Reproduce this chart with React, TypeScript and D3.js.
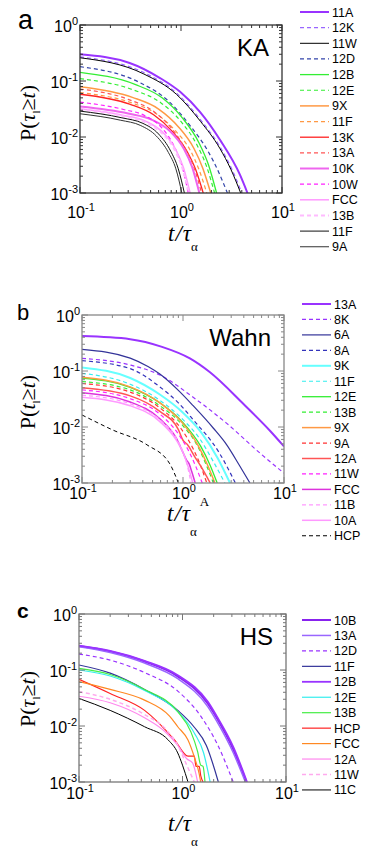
import React, { useEffect, useRef } from "react";
import * as d3 from "d3";

type Pt = [number, number];

// ---------- panel a : KA ----------
const kaNames = ["11A", "12K", "11W", "12D", "12B", "12E", "9X", "11F", "13K", "13A", "10K", "10W", "FCC", "13B", "11F", "9A"];
const kaColors = ["#9933ff", "#9966ff", "#000000", "#3344aa", "#33ee33", "#33ee33", "#ff9944", "#ff9944", "#ff2222", "#ff5555", "#ee66ee", "#ff22ff", "#ff99ff", "#ffbbff", "#111111", "#333333"];
const kaDashed = [false, true, false, true, false, true, false, true, false, true, false, true, false, true, false, false];
const kaWidths = [2, 1.2, 1, 1.2, 1.3, 1.2, 1.5, 1.2, 1.3, 1.2, 2, 1.2, 1.5, 2, 1, 1];
const kaCurves: Pt[][] = [
  [[0.1, 0.30], [0.31, 0.21], [0.62, 0.113], [0.98, 0.064], [1.54, 0.028], [2.43, 0.0089], [3.84, 0.0021], [4.55, 0.001]],
  [[0.1, 0.27], [0.44, 0.138], [0.91, 0.06], [1.59, 0.0194], [2.48, 0.0063], [3.21, 0.0026], [4.0, 0.001]],
  [[0.1, 0.26], [0.43, 0.133], [0.9, 0.058], [1.56, 0.019], [2.42, 0.0063], [3.13, 0.0026], [3.9, 0.001]],
  [[0.1, 0.18], [0.38, 0.096], [0.75, 0.044], [1.24, 0.0157], [1.86, 0.0055], [2.35, 0.0024], [2.88, 0.001]],
  [[0.1, 0.143], [0.35, 0.087], [0.65, 0.05], [1.03, 0.022], [1.5, 0.008], [1.87, 0.0032], [2.25, 0.001]],
  [[0.1, 0.11], [0.34, 0.069], [0.63, 0.041], [1.0, 0.0189], [1.44, 0.0072], [1.79, 0.003], [2.15, 0.001]],
  [[0.1, 0.079], [0.33, 0.051], [0.6, 0.0316], [0.94, 0.0153], [1.34, 0.0063], [1.64, 0.0028], [1.97, 0.001]],
  [[0.1, 0.062], [0.32, 0.041], [0.57, 0.026], [0.87, 0.0132], [1.24, 0.0057], [1.51, 0.0026], [1.8, 0.001]],
  [[0.1, 0.058], [0.31, 0.0386], [0.54, 0.0247], [0.82, 0.0126], [1.15, 0.0055], [1.4, 0.0026], [1.66, 0.001]],
  [[0.1, 0.072], [0.3, 0.047], [0.53, 0.029], [0.8, 0.0145], [1.11, 0.006], [1.36, 0.0027], [1.6, 0.001]],
  [[0.1, 0.035], [0.3, 0.0263], [0.51, 0.0205], [0.77, 0.0129], [1.07, 0.0061], [1.29, 0.0029], [1.52, 0.001]],
  [[0.1, 0.042], [0.27, 0.031], [0.44, 0.024], [0.64, 0.0148], [0.86, 0.0067], [1.02, 0.0031], [1.18, 0.001]],
  [[0.1, 0.032], [0.27, 0.0243], [0.45, 0.019], [0.66, 0.0121], [0.89, 0.0059], [1.06, 0.0028], [1.23, 0.001]],
  [[0.1, 0.031], [0.27, 0.0235], [0.44, 0.0185], [0.64, 0.0119], [0.87, 0.0058], [1.03, 0.0028], [1.2, 0.001]],
  [[0.1, 0.029], [0.26, 0.022], [0.42, 0.0175], [0.6, 0.0113], [0.79, 0.0056], [0.94, 0.0027], [1.08, 0.001]],
  [[0.1, 0.026], [0.25, 0.02], [0.4, 0.016], [0.57, 0.0104], [0.75, 0.0053], [0.89, 0.0027], [1.02, 0.001]],
];

// ---------- panel b : Wahn ----------
const wahnNames = ["13A", "8K", "6A", "8A", "9K", "11F", "12E", "13B", "9X", "9A", "12A", "11W", "FCC", "11B", "10A", "HCP"];
const wahnColors = ["#9933ff", "#9933ff", "#333399", "#3333bb", "#66ffff", "#33eeee", "#33ee33", "#33ee33", "#ff9944", "#ff3333", "#ff5555", "#ff22ff", "#dd33dd", "#ff99ff", "#ff99ff", "#000000"];
const wahnDashed = [false, true, false, true, false, true, false, true, false, true, false, true, false, true, false, true];
const wahnWidths = [2, 1.2, 1.2, 1.2, 2, 1.2, 1.3, 1.2, 1.5, 1.2, 1.5, 1.2, 1.5, 1.2, 1.5, 1];
const wahnCurves: Pt[][] = [
  [[0.1, 0.42], [0.3, 0.37], [0.62, 0.27], [1.17, 0.168], [1.85, 0.095], [3.95, 0.026], [7.3, 0.0085], [10, 0.0045]],
  [[0.1, 0.168], [0.3, 0.128], [0.59, 0.085], [1.26, 0.034], [2.71, 0.0116], [5.8, 0.0034], [10, 0.0015]],
  [[0.1, 0.244], [0.3, 0.17], [0.45, 0.12], [0.59, 0.088], [0.9, 0.045], [1.26, 0.024], [2.0, 0.0095], [2.71, 0.0048], [3.6, 0.0021], [4.6, 0.001]],
  [[0.1, 0.153], [0.3, 0.11], [0.59, 0.052], [0.9, 0.027], [1.26, 0.0135], [2.3, 0.0034], [3.3, 0.001]],
  [[0.1, 0.116], [0.3, 0.075], [0.59, 0.038], [1.0, 0.018], [1.5, 0.0082], [2.2, 0.0028], [2.92, 0.001]],
  [[0.1, 0.091], [0.3, 0.058], [0.59, 0.03], [1.0, 0.0135], [1.5, 0.0058], [2.0, 0.0024], [2.6, 0.001]],
  [[0.1, 0.075], [0.3, 0.051], [0.59, 0.027], [1.0, 0.012], [1.5, 0.0045], [1.85, 0.0021], [2.18, 0.001]],
  [[0.1, 0.065], [0.3, 0.046], [0.59, 0.024], [1.0, 0.0105], [1.4, 0.0045], [1.7, 0.0021], [2.0, 0.001]],
  [[0.1, 0.077], [0.3, 0.052], [0.59, 0.027], [1.0, 0.0115], [1.4, 0.0048], [1.75, 0.0021], [2.07, 0.001]],
  [[0.1, 0.06], [0.3, 0.042], [0.59, 0.022], [0.95, 0.0095], [1.25, 0.0042], [1.5, 0.002], [1.72, 0.001]],
  [[0.1, 0.05], [0.3, 0.036], [0.59, 0.019], [0.9, 0.009], [1.0, 0.0058], [1.1, 0.0049], [1.3, 0.003], [1.5, 0.002], [1.86, 0.001]],
  [[0.1, 0.046], [0.3, 0.032], [0.59, 0.017], [0.9, 0.0075], [1.15, 0.0036], [1.35, 0.0019], [1.55, 0.001]],
  [[0.1, 0.041], [0.3, 0.028], [0.59, 0.014], [0.85, 0.0065], [1.0, 0.0035], [1.08, 0.0026], [1.15, 0.0022], [1.22, 0.0016], [1.32, 0.001]],
  [[0.1, 0.037], [0.3, 0.026], [0.59, 0.0135], [0.85, 0.0065], [1.0, 0.0036], [1.1, 0.0021], [1.2, 0.001]],
  [[0.1, 0.034], [0.3, 0.024], [0.59, 0.0125], [0.85, 0.006], [1.0, 0.0035], [1.12, 0.002], [1.25, 0.001]],
  [[0.1, 0.0164], [0.2, 0.0089], [0.44, 0.0048], [0.74, 0.0022], [0.9, 0.001]],
];

// ---------- panel c : HS ----------
const hsNames = ["10B", "13A", "12D", "11F", "12B", "12E", "13B", "HCP", "FCC", "12A", "11W", "11C"];
const hsColors = ["#8822ee", "#9966ff", "#9933ff", "#333399", "#9933ff", "#33eeee", "#44ee44", "#ff2222", "#ff8822", "#ff88ee", "#ffaaee", "#000000"];
const hsDashed = [false, false, true, false, false, false, false, false, false, false, true, false];
const hsWidths = [2, 1.5, 1.2, 1.2, 1.8, 1.2, 1.2, 1.2, 1.2, 1.2, 1.5, 1];
const hsCurves: Pt[][] = [
  [[0.1, 0.268], [0.2, 0.215], [0.43, 0.142], [0.9, 0.077], [1.76, 0.025], [2.14, 0.014], [3.1, 0.0038], [4.15, 0.001]],
  [[0.1, 0.26], [0.2, 0.205], [0.43, 0.133], [0.9, 0.07], [1.76, 0.022], [2.14, 0.0122], [3.1, 0.0033], [4.05, 0.001]],
  [[0.1, 0.193], [0.2, 0.15], [0.43, 0.09], [0.9, 0.042], [1.5, 0.015], [2.2, 0.0045], [3.09, 0.001]],
  [[0.1, 0.123], [0.2, 0.088], [0.43, 0.045], [0.9, 0.019], [1.3, 0.0095], [1.7, 0.0045], [2.22, 0.001]],
  [[0.1, 0.272], [0.2, 0.22], [0.43, 0.146], [0.9, 0.081], [1.76, 0.027], [2.14, 0.015], [3.1, 0.0042], [4.2, 0.001]],
  [[0.1, 0.10], [0.2, 0.078], [0.43, 0.043], [0.9, 0.018], [1.3, 0.0075], [1.6, 0.0033], [1.85, 0.001]],
  [[0.1, 0.107], [0.2, 0.083], [0.43, 0.045], [0.9, 0.018], [1.2, 0.008], [1.4, 0.0035], [1.5, 0.002], [1.58, 0.0019], [1.65, 0.001]],
  [[0.1, 0.068], [0.2, 0.038], [0.43, 0.019], [0.84, 0.0056], [1.13, 0.0029], [1.3, 0.0029], [1.35, 0.0019], [1.45, 0.0019], [1.5, 0.0013], [1.58, 0.001]],
  [[0.1, 0.062], [0.2, 0.045], [0.43, 0.029], [0.75, 0.015], [0.9, 0.0097], [1.13, 0.0056], [1.3, 0.0028], [1.45, 0.0014], [1.5, 0.001]],
  [[0.1, 0.034], [0.2, 0.026], [0.43, 0.014], [0.7, 0.0075], [0.9, 0.0045], [1.1, 0.0026], [1.25, 0.0022], [1.4, 0.001]],
  [[0.1, 0.041], [0.2, 0.03], [0.43, 0.016], [0.7, 0.0085], [0.9, 0.0045], [1.1, 0.002], [1.3, 0.001]],
  [[0.1, 0.031], [0.2, 0.019], [0.43, 0.0097], [0.73, 0.0056], [0.9, 0.0033], [1.0, 0.002], [1.13, 0.001]],
];

const SANS = "Arial, 'Liberation Sans', Helvetica, sans-serif";
const SERIF = "'Times New Roman', 'Liberation Serif', serif";

const panels = [
  {
    id: "a", title: "KA", names: kaNames, colors: kaColors, dashed: kaDashed, widths: kaWidths, curves: kaCurves,
    left: 80, right: 282, top: 25, bottom: 193, frame: "#333", tickPad: 25,
    letter: { x: 18, y: 29, size: 27, bold: false },
    legend: { x: 300, y: 12, step: 15.65 },
    yVar: "τ", xSup: "", xLab: { x: 168, y: 241, sub: 10 }, yLabY: 113,
  },
  {
    id: "b", title: "Wahn", names: wahnNames, colors: wahnColors, dashed: wahnDashed, widths: wahnWidths, curves: wahnCurves,
    left: 82, right: 284, top: 315, bottom: 483, frame: "#888", tickPad: 16,
    letter: { x: 17, y: 320, size: 22, bold: false },
    legend: { x: 302, y: 304, step: 15.45 },
    yVar: "t", xSup: "A", xLab: { x: 167, y: 521, sub: 15 }, yLabY: 402,
  },
  {
    id: "c", title: "HS", names: hsNames, colors: hsColors, dashed: hsDashed, widths: hsWidths, curves: hsCurves,
    left: 79, right: 286, top: 614, bottom: 782, frame: "#777", tickPad: 17,
    letter: { x: 17, y: 618, size: 21, bold: true },
    legend: { x: 302, y: 620, step: 15.45 },
    yVar: "τ", xSup: "", xLab: { x: 168, y: 831, sub: 15 }, yLabY: 699,
  },
];

const expLabel = (v: number) => String(Math.round(Math.log10(v)));

const App = () => {
  const svgRef = useRef<SVGSVGElement>(null);

  useEffect(() => {
    const svg = d3.select(svgRef.current);
    svg.selectAll("*").remove();

    panels.forEach((p) => {
      const x = d3.scaleLog().domain([0.1, 10]).range([p.left, p.right]);
      const y = d3.scaleLog().domain([0.001, 1]).range([p.bottom, p.top]);
      const g = svg.append("g");

      g.append("clipPath").attr("id", "clip-" + p.id)
        .append("rect").attr("x", p.left).attr("y", p.top)
        .attr("width", p.right - p.left).attr("height", p.bottom - p.top);

      const line = d3.line<Pt>().x((d) => x(d[0])).y((d) => y(d[1])).curve(d3.curveMonotoneX);

      const lines = g.append("g").attr("clip-path", `url(#clip-${p.id})`);
      p.curves.forEach((c, i) => {
        lines.append("path")
          .attr("d", line(c))
          .attr("fill", "none")
          .attr("stroke", p.colors[i])
          .attr("stroke-width", p.widths[i])
          .attr("stroke-dasharray", p.dashed[i] ? "4,3" : null);
      });

      // frame
      g.append("rect")
        .attr("x", p.left).attr("y", p.top)
        .attr("width", p.right - p.left).attr("height", p.bottom - p.top)
        .attr("fill", "none").attr("stroke", p.frame).attr("stroke-width", 1.3);

      const isMajor = (v: number) => Math.abs(Math.log10(v) - Math.round(Math.log10(v))) < 1e-6;

      // ticks inside, on all four sides
      x.ticks().forEach((v) => {
        const len = isMajor(v) ? 6 : 3;
        const xx = x(v);
        g.append("line").attr("x1", xx).attr("x2", xx).attr("y1", p.bottom).attr("y2", p.bottom - len).attr("stroke", p.frame);
        g.append("line").attr("x1", xx).attr("x2", xx).attr("y1", p.top).attr("y2", p.top + len).attr("stroke", p.frame);
      });
      y.ticks().forEach((v) => {
        const len = isMajor(v) ? 6 : 3;
        const yy = y(v);
        g.append("line").attr("y1", yy).attr("y2", yy).attr("x1", p.left).attr("x2", p.left + len).attr("stroke", p.frame);
        g.append("line").attr("y1", yy).attr("y2", yy).attr("x1", p.right).attr("x2", p.right - len).attr("stroke", p.frame);
      });

      // tick labels
      [0.1, 1, 10].forEach((v) => {
        const t = g.append("text").attr("x", x(v) + 1).attr("y", p.bottom + p.tickPad)
          .attr("text-anchor", "middle").attr("font-family", SANS).attr("font-size", 16);
        t.append("tspan").text("10");
        t.append("tspan").attr("dy", -7).attr("font-size", 11).text(expLabel(v));
      });
      [1, 0.1, 0.01, 0.001].forEach((v) => {
        const t = g.append("text").attr("x", p.left - 2).attr("y", y(v) + 6.5)
          .attr("text-anchor", "end").attr("font-family", SANS).attr("font-size", 16);
        t.append("tspan").text("10");
        t.append("tspan").attr("dy", -7).attr("font-size", 11).text(expLabel(v));
      });

      // panel letter + system name
      g.append("text").attr("x", p.letter.x).attr("y", p.letter.y)
        .attr("font-family", SANS).attr("font-size", p.letter.size)
        .attr("font-weight", p.letter.bold ? "bold" : "normal").text(p.id);
      g.append("text").attr("x", p.right - 13).attr("y", p.top + 31)
        .attr("text-anchor", "end").attr("font-family", SANS).attr("font-size", 24).text(p.title);

      // y axis label
      const yl = g.append("text")
        .attr("transform", `translate(35,${p.yLabY}) rotate(-90)`)
        .attr("text-anchor", "middle").attr("font-family", SERIF).attr("font-size", 22);
      yl.append("tspan").text("P(");
      yl.append("tspan").attr("font-style", "italic").text(p.yVar);
      yl.append("tspan").attr("font-size", 11).attr("dy", 5).text("l");
      yl.append("tspan").attr("dy", -5).text("≥");
      yl.append("tspan").attr("font-style", "italic").text("t");
      yl.append("tspan").text(")");

      // x axis label
      const xl = g.append("text").attr("x", p.xLab.x).attr("y", p.xLab.y)
        .attr("font-family", SERIF).attr("font-size", 23).attr("font-style", "italic");
      xl.append("tspan").text("t");
      xl.append("tspan").attr("dx", 1).text("/");
      xl.append("tspan").attr("dx", 1).text("τ");
      xl.append("tspan").attr("font-style", "normal").attr("font-size", 13).attr("dy", p.xLab.sub).text("α");
      if (p.xSup) {
        xl.append("tspan").attr("font-style", "normal").attr("font-size", 13)
          .attr("dx", 3).attr("dy", -p.xLab.sub - 15).text(p.xSup);
      }

      // legend
      const lg = g.append("g");
      p.names.forEach((n, i) => {
        const cy = p.legend.y + i * p.legend.step;
        lg.append("line")
          .attr("x1", p.legend.x).attr("x2", p.legend.x + 29)
          .attr("y1", cy).attr("y2", cy)
          .attr("stroke", p.colors[i]).attr("stroke-width", p.widths[i])
          .attr("stroke-dasharray", p.dashed[i] ? "4,3" : null);
        lg.append("text").attr("x", p.legend.x + 32).attr("y", cy + 4.5)
          .attr("font-family", SANS).attr("font-size", 12.5).text(n);
      });
    });
  }, []);

  return (
    <div style={{ position: "absolute", left: 0, top: 0, width: 381, height: 850, background: "white" }}>
      <svg ref={svgRef} width={381} height={850} style={{ display: "block" }} />
    </div>
  );
};

export default App;
